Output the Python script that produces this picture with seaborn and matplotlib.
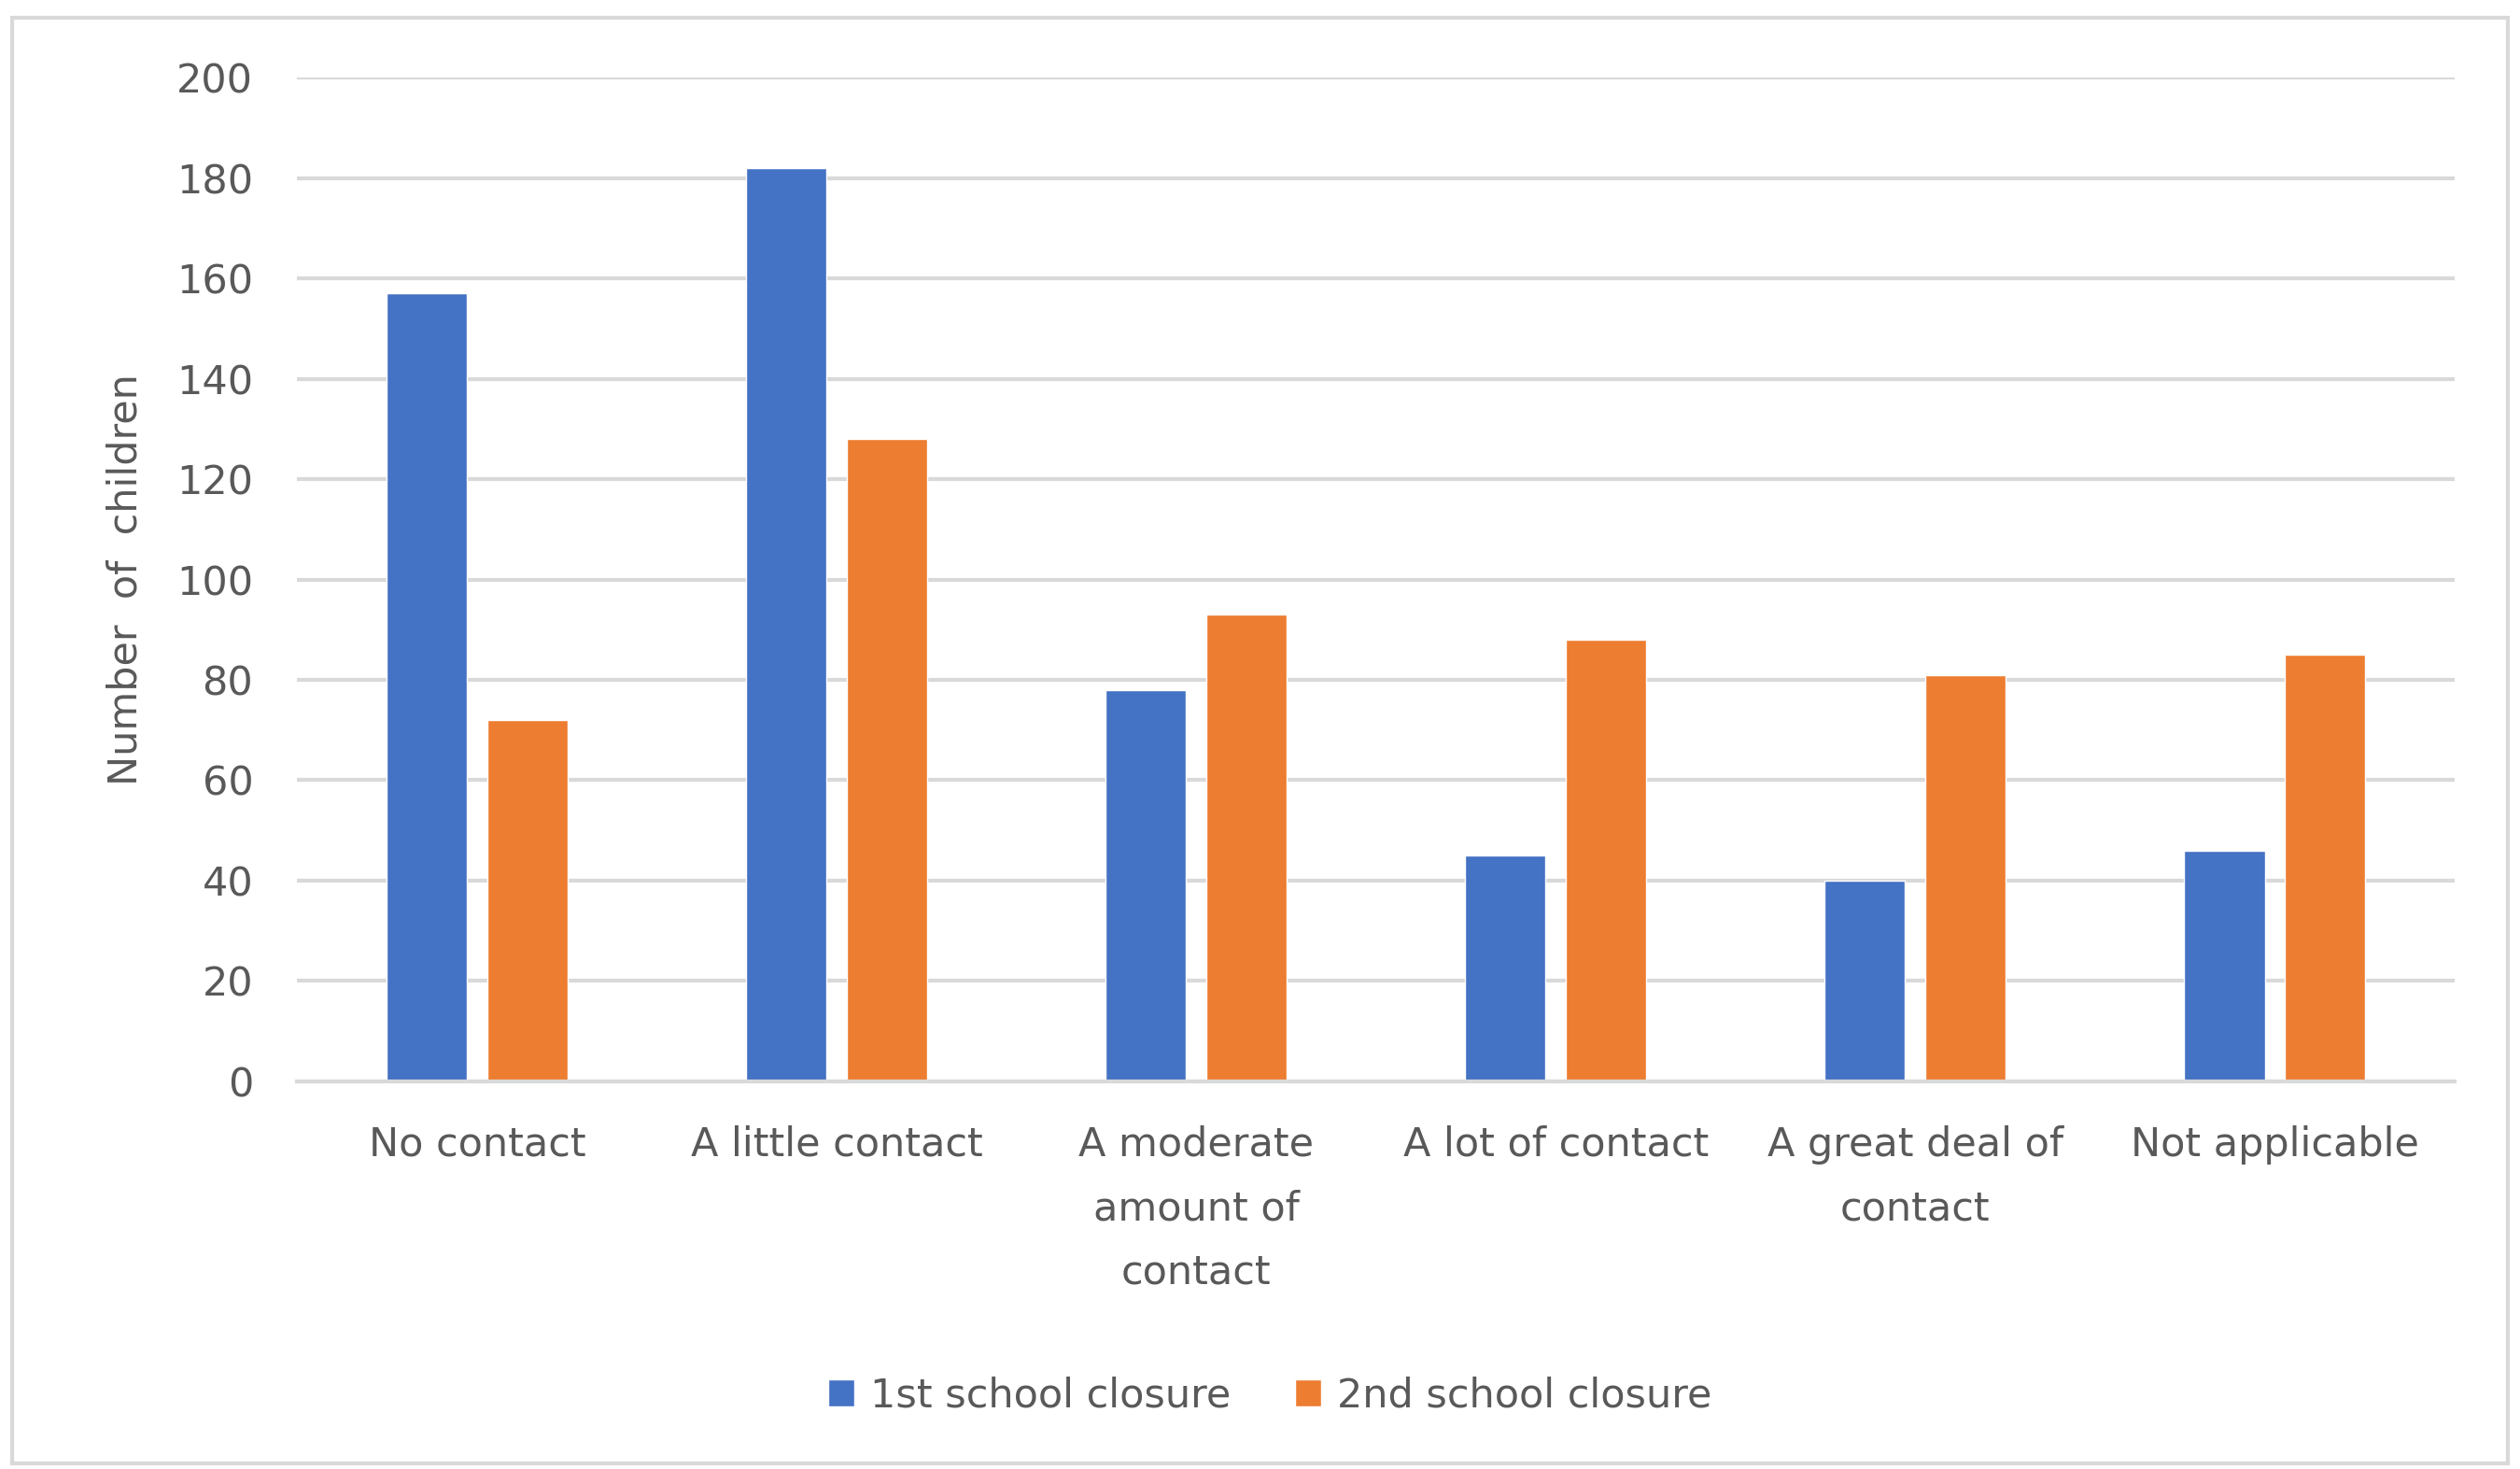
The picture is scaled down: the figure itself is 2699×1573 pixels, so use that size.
import matplotlib.pyplot as plt
import numpy as np
import pandas as pd
import seaborn as sns
from matplotlib.patches import Rectangle

# data
categories = ["No contact", "A little contact", "A moderate\namount of\ncontact",
              "A lot of contact", "A great deal of\ncontact", "Not applicable"]
first_closure = [157, 182, 78, 45, 40, 46]
second_closure = [72, 128, 93, 88, 81, 85]
series_names = ["1st school closure", "2nd school closure"]
y_ticks = [0, 20, 40, 60, 80, 100, 120, 140, 160, 180, 200]

df = pd.DataFrame({
    "category": categories * 2,
    "value": first_closure + second_closure,
    "series": [series_names[0]] * len(categories) + [series_names[1]] * len(categories),
})

sns.set_theme(style="white")
plt.rcParams["font.family"] = ["DejaVu Sans"]
text_color = "#595959"
grid_color = "#d9d9d9"
fs = 31

fig = plt.figure(figsize=(26.99, 15.73), dpi=100)
ax = fig.add_axes([0.118, 0.264, 0.856, 0.683])

sns.barplot(data=df, x="category", y="value", hue="series", order=categories,
            hue_order=series_names, palette=["#4472C4", "#ED7D31"],
            width=0.56, gap=0.2, saturation=1, ax=ax, legend=True)

ax.set_ylim(0, 200)
ax.set_yticks(y_ticks)
ax.set_xlim(-0.5, len(categories) - 0.5)
ax.yaxis.grid(True, color=grid_color, linewidth=3)
ax.set_axisbelow(True)
for side in ["top", "right", "left"]:
    ax.spines[side].set_visible(False)
ax.spines["bottom"].set_color(grid_color)
ax.spines["bottom"].set_linewidth(3)
ax.tick_params(axis="both", length=0, colors=text_color, labelsize=fs)
ax.tick_params(axis="y", pad=34)
ax.tick_params(axis="x", pad=34)
for lbl in ax.get_xticklabels():
    lbl.set_linespacing(1.8)
ax.set_xlabel("")
ax.set_ylabel("Number  of  children", fontsize=fs, color=text_color, labelpad=24)

handles, labels = ax.get_legend_handles_labels()
ax.get_legend().remove()
fig.legend(handles, labels, loc="center", bbox_to_anchor=(0.504, 0.05), ncol=2,
           frameon=False, fontsize=fs, labelcolor=text_color,
           handlelength=0.65, handleheight=0.65, handletextpad=0.4, columnspacing=1.6)

# chart area border
fig.patches.append(Rectangle((0.005, 0.004), 0.99, 0.984, transform=fig.transFigure,
                             fill=False, edgecolor=grid_color, linewidth=3))

plt.savefig("out.png", dpi=100)
plt.close()
